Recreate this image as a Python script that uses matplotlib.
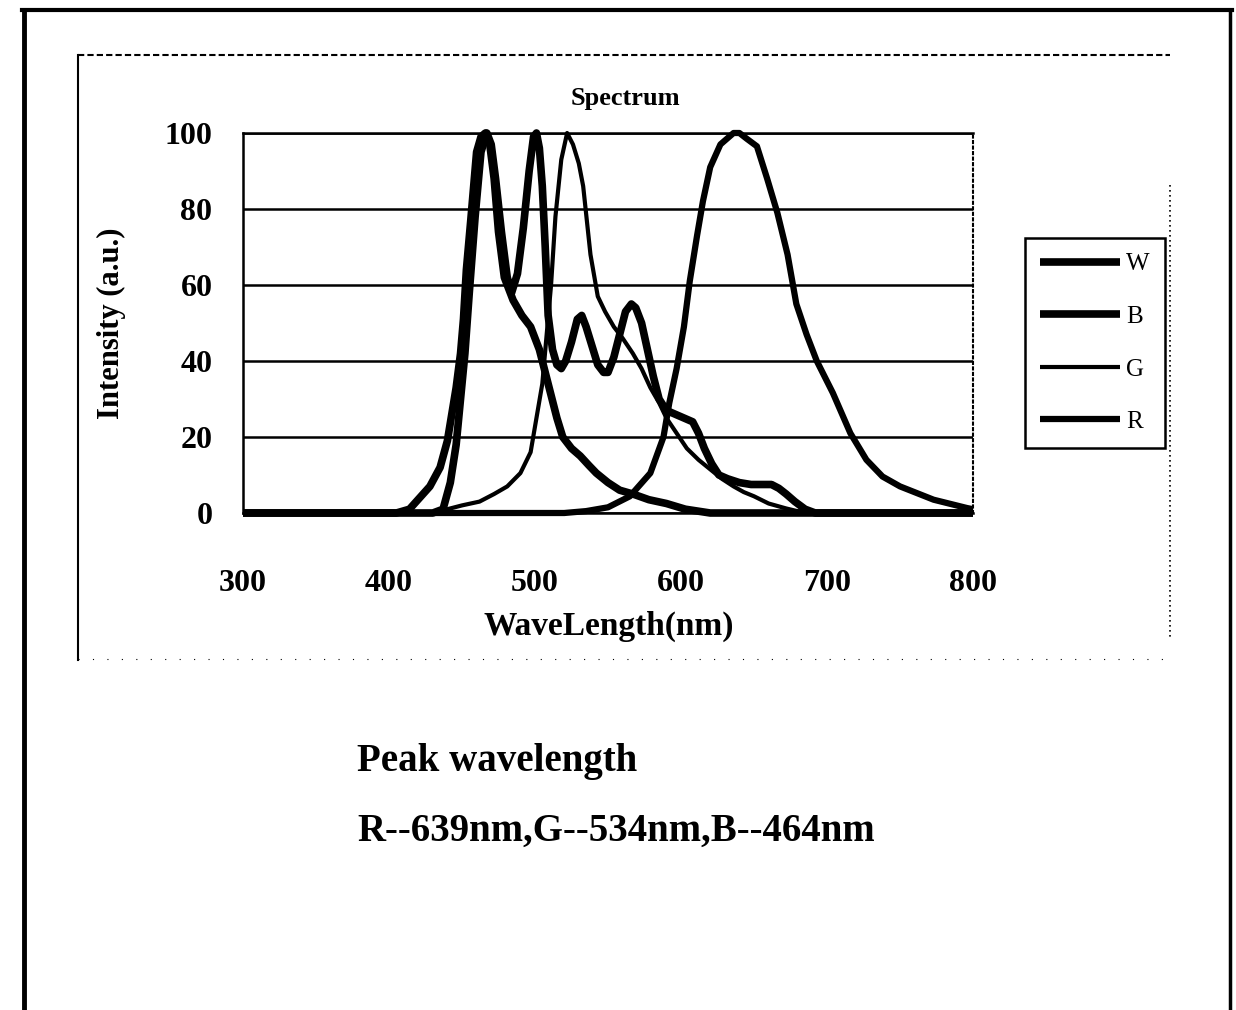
import matplotlib
matplotlib.use("Agg")
import matplotlib.pyplot as plt
from matplotlib.lines import Line2D

# spectrum data (wavelength nm, intensity a.u.)
w_wl = [300, 430, 437, 442, 446, 449, 452, 455, 459, 463, 467, 470, 473, 477, 481, 484,
        488, 492, 496, 499, 501, 503, 505, 507, 509, 512, 515, 518, 521, 525, 529, 532,
        535, 539, 543, 547, 550, 554, 558, 562, 566, 569, 573, 577, 581, 585, 590, 596,
        602, 608, 612, 616, 621, 626, 632, 640, 648, 655, 662, 667, 672, 678, 685, 692, 800]
w_int = [0, 0, 1, 8, 18, 30, 42, 58, 78, 95, 100, 97, 88, 74, 62, 58,
         63, 75, 90, 99, 100, 96, 86, 70, 52, 43, 39, 38, 40, 45, 51, 52,
         49, 44, 39, 37, 37, 41, 47, 53, 55, 54, 50, 43, 36, 30, 27, 26,
         25, 24, 21, 17, 13, 10, 9, 8, 7.5, 7.5, 7.5, 6.5, 5, 3, 1, 0, 0]

b_wl = [300, 405, 414, 428, 435, 440, 446, 449, 451, 453, 456, 460, 463, 466, 469, 472,
        475, 479, 485, 491, 497, 503, 507, 511, 515, 519, 525, 531, 537, 542, 550, 558,
        567, 578, 590, 603, 620, 800]
b_int = [0, 0, 1, 7, 12, 19, 33, 42, 51, 64, 77, 95, 99, 100, 97, 88,
         74, 62, 56, 52, 49, 43, 37, 31, 25, 20, 17, 15, 12.5, 10.5, 8, 6,
         5, 3.5, 2.5, 1, 0, 0]

g_wl = [300, 432, 440, 450, 462, 472, 481, 490, 497, 501, 505, 508, 511, 514, 518, 522,
        526, 530, 533, 538, 543, 548, 554, 560, 567, 573, 579, 585, 590, 597, 604, 612,
        620, 628, 636, 643, 650, 660, 672, 685, 800]
g_int = [0, 0, 1, 2, 3, 5, 7, 10.5, 16, 25, 34, 47, 60, 78, 93, 100,
         97, 92, 86, 68, 57, 53, 49, 46, 42, 38, 33, 29, 25, 21, 17, 14,
         11.5, 9, 7, 5.5, 4.4, 2.5, 1.2, 0, 0]

r_wl = [300, 520, 535, 550, 565, 579, 588, 592, 597, 602, 606, 611, 615, 620, 627, 636,
        640, 645, 652, 659, 666, 673, 679, 686, 693, 704, 716, 727, 738, 750, 773, 796, 800]
r_int = [0, 0, 0.5, 1.5, 4.4, 10.5, 20, 29, 38, 49, 61, 73, 82, 91, 97, 100,
         100, 98.5, 96.5, 88, 79, 68, 55, 47, 40, 31.6, 21, 14, 9.6, 7, 3.5, 1.3, 1]

series_names = ["W", "B", "G", "R"]
line_widths = [5.5, 5.5, 3.0, 4.5]

x_ticks = [300, 400, 500, 600, 700, 800]
y_ticks = [0, 20, 40, 60, 80, 100]

W, H = 1236, 1010
serif = ["Liberation Serif", "DejaVu Serif"]

fig = plt.figure(figsize=(W / 100, H / 100), dpi=100)
fig.patch.set_facecolor("white")


def px(x, y):
    """pixel position -> figure fraction"""
    return x / W, 1 - y / H


def fig_line(x0, y0, x1, y1, **kw):
    a, b = px(x0, y0)
    c, d = px(x1, y1)
    fig.add_artist(Line2D([a, c], [b, d], transform=fig.transFigure, color="black", **kw))


# outer frame of the scanned page
fig_line(24, 10, 24, 1010, lw=3.5)
fig_line(22, 10, 1232, 10, lw=3)
fig_line(1230, 10, 1230, 1010, lw=2.5)

# chart area border
fig_line(78, 55, 78, 660, lw=1.5)
fig_line(78, 55, 1170, 55, lw=1.5, ls=(0, (3, 1.5)))
fig_line(1170, 185, 1170, 637, lw=1.2, ls=(0, (1, 2)))
fig_line(78, 659, 1170, 659, lw=0.8, ls=(0, (1, 12)))

ax = fig.add_axes([243 / W, 1 - 513 / H, 730 / W, 380 / H])
all_wl = [w_wl, b_wl, g_wl, r_wl]
all_int = [w_int, b_int, g_int, r_int]
handles = []
for wl, inten, name, lw in zip(all_wl, all_int, series_names, line_widths):
    ln, = ax.plot(wl, inten, color="black", lw=lw, label=name,
                  solid_joinstyle="round", solid_capstyle="butt", clip_on=False, zorder=3)
    handles.append(ln)

ax.set_xlim(300, 800)
ax.set_ylim(0, 100)
ax.set_xticks(x_ticks)
ax.set_yticks(y_ticks)
ax.yaxis.grid(True, color="black", lw=1.8)
ax.set_axisbelow(True)
ax.tick_params(length=0)
ax.tick_params(axis="x", pad=40)
ax.tick_params(axis="y", pad=22)
for lab in ax.get_xticklabels() + ax.get_yticklabels():
    lab.set_family(serif)
    lab.set_fontsize(23)
    lab.set_fontweight("bold")

ax.spines["left"].set_linewidth(1.8)
ax.spines["bottom"].set_linewidth(1.8)
ax.spines["top"].set_linewidth(1.8)
ax.spines["right"].set_linewidth(1.5)
ax.spines["right"].set_linestyle(":")

ax.set_xlabel("WaveLength(nm)", family=serif, fontsize=24, fontweight="bold")
ax.xaxis.set_label_coords((609 - 243) / 730, (513 - 611) / 380)
ax.set_ylabel("Intensity (a.u.)", family=serif, fontsize=22, fontweight="bold")
ax.yaxis.set_label_coords((126 - 243) / 730, 0.5)
ax.text((625 - 243) / 730, (513 - 98) / 380, "Spectrum", transform=ax.transAxes,
        ha="center", va="center", family=serif, fontsize=19, fontweight="bold")

leg = fig.legend(handles, series_names, loc="upper left", bbox_to_anchor=px(1025, 238),
                 frameon=True, fancybox=False, edgecolor="black", framealpha=1,
                 handlelength=3.2, handletextpad=0.25, labelspacing=1.2, borderpad=0.6,
                 borderaxespad=0, prop={"family": serif, "size": 18})
leg.get_frame().set_linewidth(1.8)

fig.text(*px(357, 762), "Peak wavelength", ha="left", va="center",
         family=serif, fontsize=28, fontweight="bold")
fig.text(*px(357, 831), "R--639nm,G--534nm,B--464nm", ha="left", va="center",
         family=serif, fontsize=28, fontweight="bold")

fig.savefig("out.png", dpi=100, facecolor="white")
